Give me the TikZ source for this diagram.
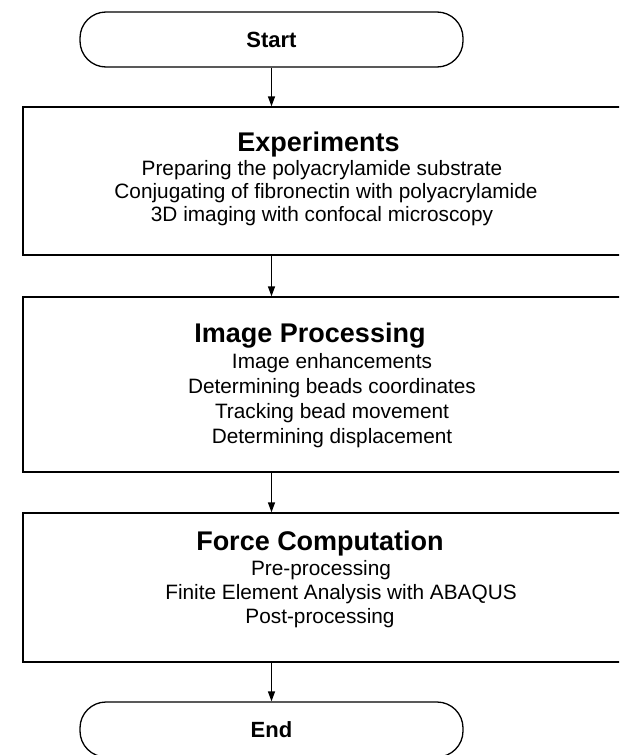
\documentclass[tikz,border=0pt]{standalone}
\usepackage{fontspec}
\setmainfont{Liberation Sans}
\usetikzlibrary{arrows.meta}
\begin{document}
\begin{tikzpicture}[x=1pt,y=1pt,
  line width=1.3pt,
  term/.style={draw, rounded corners=26pt, minimum width=383pt, minimum height=55pt, inner sep=0pt, font=\fontsize{22}{26}\selectfont\bfseries},
  stagebox/.style={draw, inner sep=0pt, minimum width=602pt},
  ttl/.style={anchor=base, inner sep=0pt, font=\fontsize{27}{31}\selectfont\bfseries},
  itm/.style={anchor=base, inner sep=0pt, font=\fontsize{20.8}{24}\selectfont},
  flow/.style={-{Triangle[length=10pt,width=7pt]}, line width=1.3pt}
]
\useasboundingbox (0,0) rectangle (619,-755);
\clip (0,0) rectangle (619,-755);
\node[term] (start) at (271.5,-39.5) {Start};
\node[stagebox, minimum height=148pt] (exp) at (324,-181) {};
\node[stagebox, minimum height=175pt] (img) at (324,-384.5) {};
\node[stagebox, minimum height=149pt] (frc) at (324,-587.5) {};
\node[term] (end) at (271.5,-729.5) {End};

\node[ttl] (expt) at (318.5,-151) {Experiments};
\node[itm] (exp1) at (322,-175) {Preparing the polyacrylamide substrate};
\node[itm] (exp2) at (326,-198) {Conjugating of fibronectin with polyacrylamide};
\node[itm] (exp3) at (322,-221) {3D imaging with confocal microscopy};

\node[ttl] (imgt) at (310,-342) {Image Processing};
\node[itm] (img1) at (332,-368) {Image enhancements};
\node[itm] (img2) at (332,-393) {Determining beads coordinates};
\node[itm] (img3) at (332,-418) {Tracking bead movement};
\node[itm] (img4) at (332,-443) {Determining displacement};

\node[ttl] (frct) at (320,-550) {Force Computation};
\node[itm] (frc1) at (321,-575) {Pre-processing};
\node[itm] (frc2) at (341,-599) {Finite Element Analysis with ABAQUS};
\node[itm] (frc3) at (320,-623) {Post-processing};

\draw[flow] (start.south) -- (start.south |- exp.north);
\draw[flow] (start.south |- exp.south) -- (start.south |- img.north);
\draw[flow] (start.south |- img.south) -- (start.south |- frc.north);
\draw[flow] (start.south |- frc.south) -- (end.north);
\end{tikzpicture}
\end{document}
